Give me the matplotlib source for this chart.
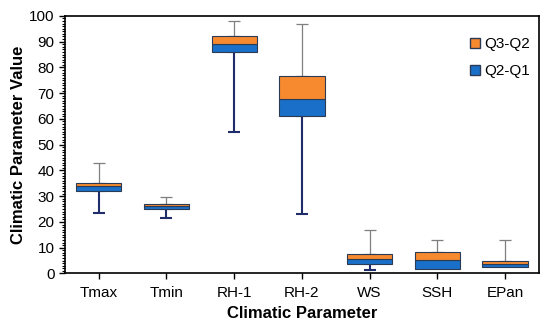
import matplotlib.pyplot as plt
from matplotlib.ticker import MultipleLocator
from matplotlib.patches import Patch

plt.rcParams["font.family"] = ["Liberation Sans", "DejaVu Sans"]

params = ["Tmax", "Tmin", "RH-1", "RH-2", "WS", "SSH", "EPan"]
q_min = [23.6, 21.4, 54.9, 22.9, 1.2, 1.8, 2.7]
q1 = [31.9, 25.0, 85.9, 61.0, 3.8, 1.8, 2.7]
q2 = [33.9, 26.0, 89.0, 67.9, 5.7, 5.3, 3.8]
q3 = [35.0, 26.9, 92.0, 76.8, 7.7, 8.3, 4.7]
q_max = [42.7, 29.5, 97.9, 96.9, 16.7, 12.8, 13.1]

orange = "#F7892F"
blue = "#1A70C8"

fig = plt.figure(figsize=(5.5, 3.24), dpi=100)
ax = fig.add_axes([0.118, 0.156, 0.862, 0.795])

x = [i + 0.5 for i in range(len(params))]
lower = [b - a for a, b in zip(q1, q2)]
upper = [b - a for a, b in zip(q2, q3)]

ax.bar(x, lower, bottom=q1, width=0.67, color=blue, edgecolor="#2b3a55", linewidth=0.8, zorder=3)
ax.bar(x, upper, bottom=q2, width=0.67, color=orange, edgecolor="#2b3a55", linewidth=0.8, zorder=3)

# whiskers
for xi, lo, a, c, hi in zip(x, q_min, q1, q3, q_max):
    if a - lo > 0.05:
        ax.errorbar(xi, a, yerr=[[a - lo], [0]], fmt="none", ecolor="#1F2D6B",
                    elinewidth=1.5, capsize=4, capthick=1.5, zorder=2)
    ax.errorbar(xi, c, yerr=[[0], [hi - c]], fmt="none", ecolor="#7f7f7f",
                elinewidth=0.9, capsize=4, capthick=0.9, zorder=2)

ax.set_xlim(0, 7)
ax.set_ylim(0, 100)
ax.set_xticks(x)
ax.set_xticklabels(params, fontsize=11)
ax.yaxis.set_major_locator(MultipleLocator(10))
ax.yaxis.set_minor_locator(MultipleLocator(1))
ax.tick_params(axis="y", which="major", labelsize=11, length=4, width=1)
ax.tick_params(axis="y", which="minor", length=2.5, width=0.8)
ax.tick_params(axis="x", length=4, width=1, pad=5)
for s in ax.spines.values():
    s.set_linewidth(1.2)

ax.set_xlabel("Climatic Parameter", fontsize=12, fontweight="bold", labelpad=4)
ax.set_ylabel("Climatic Parameter Value", fontsize=12, fontweight="bold", labelpad=2)

handles = [Patch(facecolor=orange, edgecolor="#2b3a55", label="Q3-Q2"),
           Patch(facecolor=blue, edgecolor="#2b3a55", label="Q2-Q1")]
ax.legend(handles=handles, loc="upper right", frameon=False, fontsize=11,
          handlelength=0.7, handleheight=0.7, handletextpad=0.25, labelspacing=0.85,
          bbox_to_anchor=(1.01, 0.97))

fig.savefig("out.png", dpi=100)
